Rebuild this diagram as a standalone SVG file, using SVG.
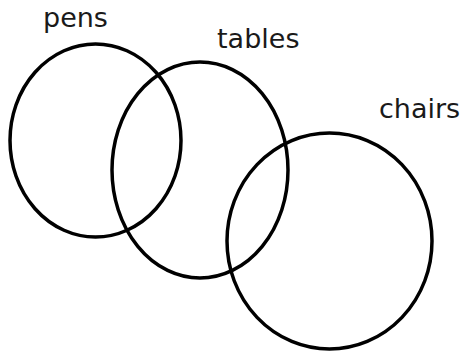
<svg xmlns="http://www.w3.org/2000/svg" width="466" height="355" viewBox="0 0 466 355">
<style>
.set{fill:none;stroke:#000;stroke-width:3.5}
.lbl{font-family:"DejaVu Sans",Verdana,sans-serif;font-size:27px;fill:#1a1a1a}
</style>
<rect width="466" height="355" fill="#fff"/>
<g id="pens">
<ellipse class="set" cx="95.5" cy="140.5" rx="85.5" ry="96.5"/>
<text class="lbl" x="43" y="27">pens</text>
</g>
<g id="tables">
<ellipse class="set" cx="200" cy="170" rx="88" ry="108"/>
<text class="lbl" x="217" y="48">tables</text>
</g>
<g id="chairs">
<ellipse class="set" cx="329.5" cy="241" rx="102.5" ry="108"/>
<text class="lbl" x="379" y="118">chairs</text>
</g>
<g id="connectors"/>
</svg>
